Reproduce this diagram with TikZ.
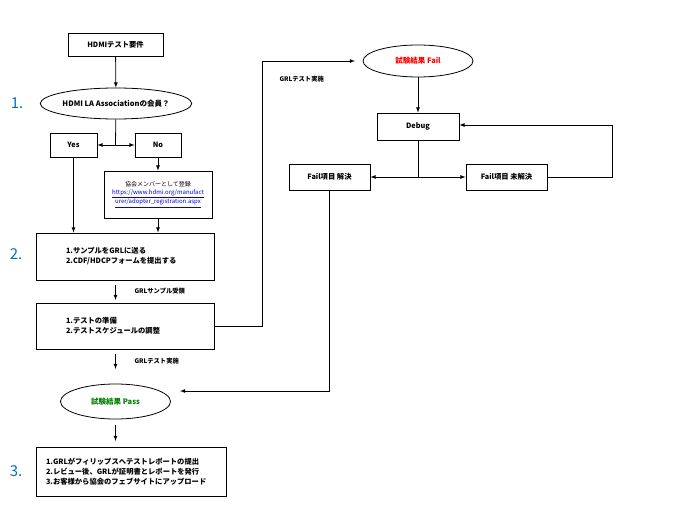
\documentclass[tikz,border=0pt]{standalone}
\usepackage{fontspec}
\setmainfont{Noto Sans CJK JP}
\usetikzlibrary{shapes.geometric}
\definecolor{numblue}{RGB}{0,112,192}
\definecolor{linkblue}{RGB}{0,0,220}
\definecolor{passgreen}{RGB}{0,128,0}
\begin{document}
\begin{tikzpicture}[x=1pt,y=-1pt,
  box/.style={draw,thick,inner sep=0,font=\fontsize{7.3}{10}\selectfont\bfseries},
  ell/.style={draw,ellipse,thick,inner sep=0,font=\fontsize{7.5}{9}\selectfont\bfseries},
  num/.style={text=numblue,font=\fontsize{15}{15}\selectfont},
  lab/.style={anchor=west,font=\fontsize{6.3}{7}\selectfont\bfseries},
  arr/.style={thick,-latex},
  ln/.style={thick}]
\useasboundingbox (0,0) rectangle (700,505);
\node[box,minimum width=95,minimum height=23] (req) at (115.5,44.5) {HDMIテスト要件};
\node[ell,minimum width=132,minimum height=31] (mem) at (116,103.5) {HDMI LA Associationの会員？};
\node[box,minimum width=47,minimum height=24] (yes) at (73.5,145) {Yes};
\node[box,minimum width=46,minimum height=24] (no) at (158,145) {No};
\node[box,minimum width=108,minimum height=47,align=center,font=\fontsize{6}{8}\selectfont] (reg) at (158,194.5) {協会メンバーとして登録\\\textcolor{linkblue}{\underline{https://www.hdmi.org/manufact}}\\\textcolor{linkblue}{\underline{urer/adopter\_registration.aspx}}};
\node[box,minimum width=178,minimum height=47,text width=170,align=left] (s2) at (125,256.5) {\hspace*{26pt}1.サンプルをGRLに送る\\\hspace*{26pt}2.CDF/HDCPフォームを提出する};
\node[box,minimum width=178,minimum height=46,text width=170,align=left] (s3) at (125,326) {\hspace*{26pt}1.テストの準備\\\hspace*{26pt}2.テストスケジュールの調整};
\node[ell,minimum width=110,minimum height=35] (pass) at (115.5,401.5) {\textcolor{passgreen}{試験結果 Pass}};
\node[box,minimum width=190,minimum height=49,text width=182,align=left] (s4) at (131,471.5) {\hspace*{6pt}1.GRLがフィリップスへテストレポートの提出\\\hspace*{6pt}2.レビュー後、GRLが証明書とレポートを発行\\\hspace*{6pt}3.お客様から協会のフェブサイトにアップロード};
\node[ell,minimum width=110,minimum height=32] (fail) at (418,61) {\textcolor{red}{試験結果 Fail}};
\node[box,minimum width=82,minimum height=27] (dbg) at (418,126.5) {Debug};
\node[box,minimum width=81,minimum height=26] (ok) at (329.5,177) {Fail項目 解決};
\node[box,minimum width=81,minimum height=26] (ng) at (506.5,177) {Fail項目 未解決};
\node[num] (n1) at (17,103) {1.};
\node[num] (n2) at (16,254) {2.};
\node[num] (n3) at (16,471) {3.};
\node[lab] (l1) at (131,291) {GRLサンプル受領};
\node[lab] (l2) at (131,361) {GRLテスト実施};
\node[lab] (l3) at (276,79) {GRLテスト実施};
\coordinate (j1) at (115.5,145);
\coordinate (j2) at (418,177);
\draw[arr] (req) -- (mem);
\draw[ln] (mem) -- (j1);
\draw[arr] (j1) -- (yes);
\draw[arr] (j1) -- (no);
\draw[arr] (no) -- (reg);
\draw[arr] (yes.south) -- (yes.south|-s2.north);
\draw[arr] (reg) -- (reg|-s2.north);
\draw[arr] (115.5,285) -- (115.5,300);
\draw[arr] (115.5,354) -- (115.5,369);
\draw[arr] (115.5,425) -- (115.5,441);
\draw[arr] (s3.east) -- (262,326) -- (262,61) -- (355,61);
\draw[arr] (fail) -- (dbg);
\draw[ln] (dbg) -- (j2);
\draw[arr] (j2) -- (ok);
\draw[arr] (j2) -- (ng);
\draw[arr] (ng.east) -- (612,177) -- (612,125) -- (dbg.east|-0,125);
\draw[arr] (ok.south) -- (329.5,391) -- (180,391);
\end{tikzpicture}
\end{document}
